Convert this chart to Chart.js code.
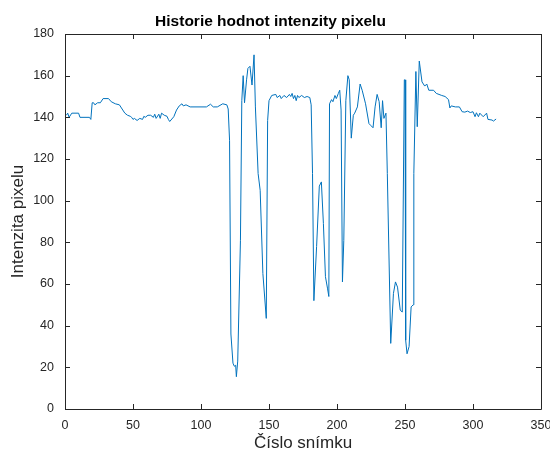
<!DOCTYPE html>
<html>
<head>
<meta charset="utf-8">
<script src="https://cdn.jsdelivr.net/npm/chart.js@4/dist/chart.umd.min.js"></script>
<style>
html,body{margin:0;padding:0;background:#fff;}
#wrap{width:550px;height:452px;}
</style>
</head>
<body>
<div id="wrap"><canvas id="c" width="550" height="452"></canvas></div>
<script>
// Frame numbers (x) and pixel intensity values (y)
const frames = [1,2,3,5,10,11,18,19,20,21,22,24,26,28,32,34,37,40,42,44,46,48,49,50,51,53,55,57,58,59,61,63,65,66,67,69,70,71,73,75,76,77,80,82,84,86,87,89,92,104,107,109,112,116,119,120,121,122,123.5,124.5,125.5,126,127,129,130,131,132,133.5,134.5,136,137.5,139,140,142,143.5,145.5,148,149,150,152,155,156,158,159,161,163,165,166,167,168,169,170,171,172,174,176,178,180,181,182,183,185,187,188.5,190,191.5,193,194,194.5,196,197,198.5,199.5,201,202,203,204,205,206.5,208,209,210.5,212,213,215,217,218.5,221,223.5,225,226.5,228,229.5,231,232.5,233.5,234.5,236,237,239.5,241.5,243,244.5,246.5,248,249.5,250,250.5,251.5,253,254.5,256,256.5,258,259,260.5,262.5,264.5,266,267.5,271,273,277,279.5,282,283,284,287,290,292,294,296,298,300,301.5,302.5,304,305,307.5,310,311,314,315,317];
const intensity = [141,142,140,142,142,140,140,139,147,147,146,147,147,149,149,147.5,146.5,146,144,142,141,140.5,140,139,139.5,138.5,139.5,139,140.5,140,141,141,140,141.5,139.5,141.5,139.5,142,141,140.5,139,138,140.3,143.5,145.5,146.5,145.5,146,145,145,146.3,145,145,146.5,146,144,129,36,22,20.5,21,15.5,23,81,148,160,147,158,163.5,164.5,155.5,170,145,113,105,65,43.5,138.5,148,150.5,151,149.5,150.5,149,150.5,149.5,151,150,151.5,149,150.5,148,150.5,149.5,150.5,149.5,150,149.5,146,113,52,78,107,109,89,63.5,58,54,146.5,148.5,147.5,150.5,149,151.5,153,143.5,61,81,148,160,158,130,141,142,145,156,153,146.5,137,136,135,145,151,147.5,135,148,139.5,142,113,31.5,55.5,61,58.5,47.5,46.5,158,158,33,26.5,30,49,50,113,162,135.5,167,157,155,156,153,153,151.5,150.5,150,148.5,144.5,145.5,145,145,142.7,142.5,143,142.3,142.7,140.3,142.2,140.3,142,140.3,142,139,138.7,138.2,139.2];
const xTicks = [0,50,100,150,200,250,300,350];
const yTicks = [0,20,40,60,80,100,120,140,160,180];

const points = frames.map((f, i) => ({x: f, y: intensity[i]}));
const FONT = "'Liberation Sans', Arial, Helvetica, sans-serif";
const TXT = '#262626';

const boxPlugin = {
  id: 'matlabBox',
  afterDraw(chart) {
    const {ctx, chartArea: a, scales: {x, y}} = chart;
    ctx.save();
    ctx.strokeStyle = '#262626';
    ctx.lineWidth = 1;
    ctx.beginPath();
    ctx.rect(Math.round(a.left) + 0.5, Math.round(a.top) + 0.5, Math.round(a.right - a.left), Math.round(a.bottom - a.top));
    ctx.stroke();
    const L = 5;
    ctx.beginPath();
    xTicks.forEach(v => {
      const px = Math.round(x.getPixelForValue(v)) + 0.5;
      ctx.moveTo(px, a.bottom); ctx.lineTo(px, a.bottom - L);
      ctx.moveTo(px, a.top); ctx.lineTo(px, a.top + L);
    });
    yTicks.forEach(v => {
      const py = Math.round(y.getPixelForValue(v)) + 0.5;
      ctx.moveTo(a.left, py); ctx.lineTo(a.left + L, py);
      ctx.moveTo(a.right, py); ctx.lineTo(a.right - L, py);
    });
    ctx.stroke();
    ctx.restore();
  }
};

new Chart(document.getElementById('c'), {
  type: 'line',
  data: {
    datasets: [{
      data: points,
      borderColor: '#0072BD',
      borderWidth: 1,
      pointRadius: 0,
      tension: 0,
      fill: false
    }]
  },
  options: {
    responsive: false,
    animation: false,
    layout: {padding: {left: 0, right: 9, top: 0, bottom: 0}},
    plugins: {
      legend: {display: false},
      tooltip: {enabled: false},
      title: {
        display: true,
        text: 'Historie hodnot intenzity pixelu',
        color: '#000',
        font: {family: FONT, size: 15.5, weight: 'bold', lineHeight: 1.2},
        padding: {top: 12, bottom: 3.4}
      }
    },
    scales: {
      x: {
        type: 'linear', min: 0, max: 350,
        afterBuildTicks: s => { s.ticks = xTicks.map(v => ({value: v})); },
        afterFit: s => { s.height = 43; s.paddingRight = 0; s.paddingLeft = 0; },
        grid: {display: false, drawTicks: false},
        border: {display: false},
        ticks: {color: TXT, padding: 9, maxRotation: 0, font: {family: FONT, size: 12.5}},
        title: {display: true, text: 'Číslo snímku', color: TXT, padding: {top: 0, bottom: 0}, font: {family: FONT, size: 17, lineHeight: 1.0}}
      },
      y: {
        type: 'linear', min: 0, max: 180,
        afterBuildTicks: s => { s.ticks = yTicks.map(v => ({value: v})); },
        afterFit: s => { s.width = 65; },
        grid: {display: false, drawTicks: false},
        border: {display: false},
        ticks: {color: TXT, padding: 11, font: {family: FONT, size: 12.5}},
        title: {display: true, text: 'Intenzita pixelu', color: TXT, padding: {top: 9.5, bottom: 0}, font: {family: FONT, size: 17, lineHeight: 1.0}}
      }
    }
  },
  plugins: [boxPlugin]
});
</script>
</body>
</html>
